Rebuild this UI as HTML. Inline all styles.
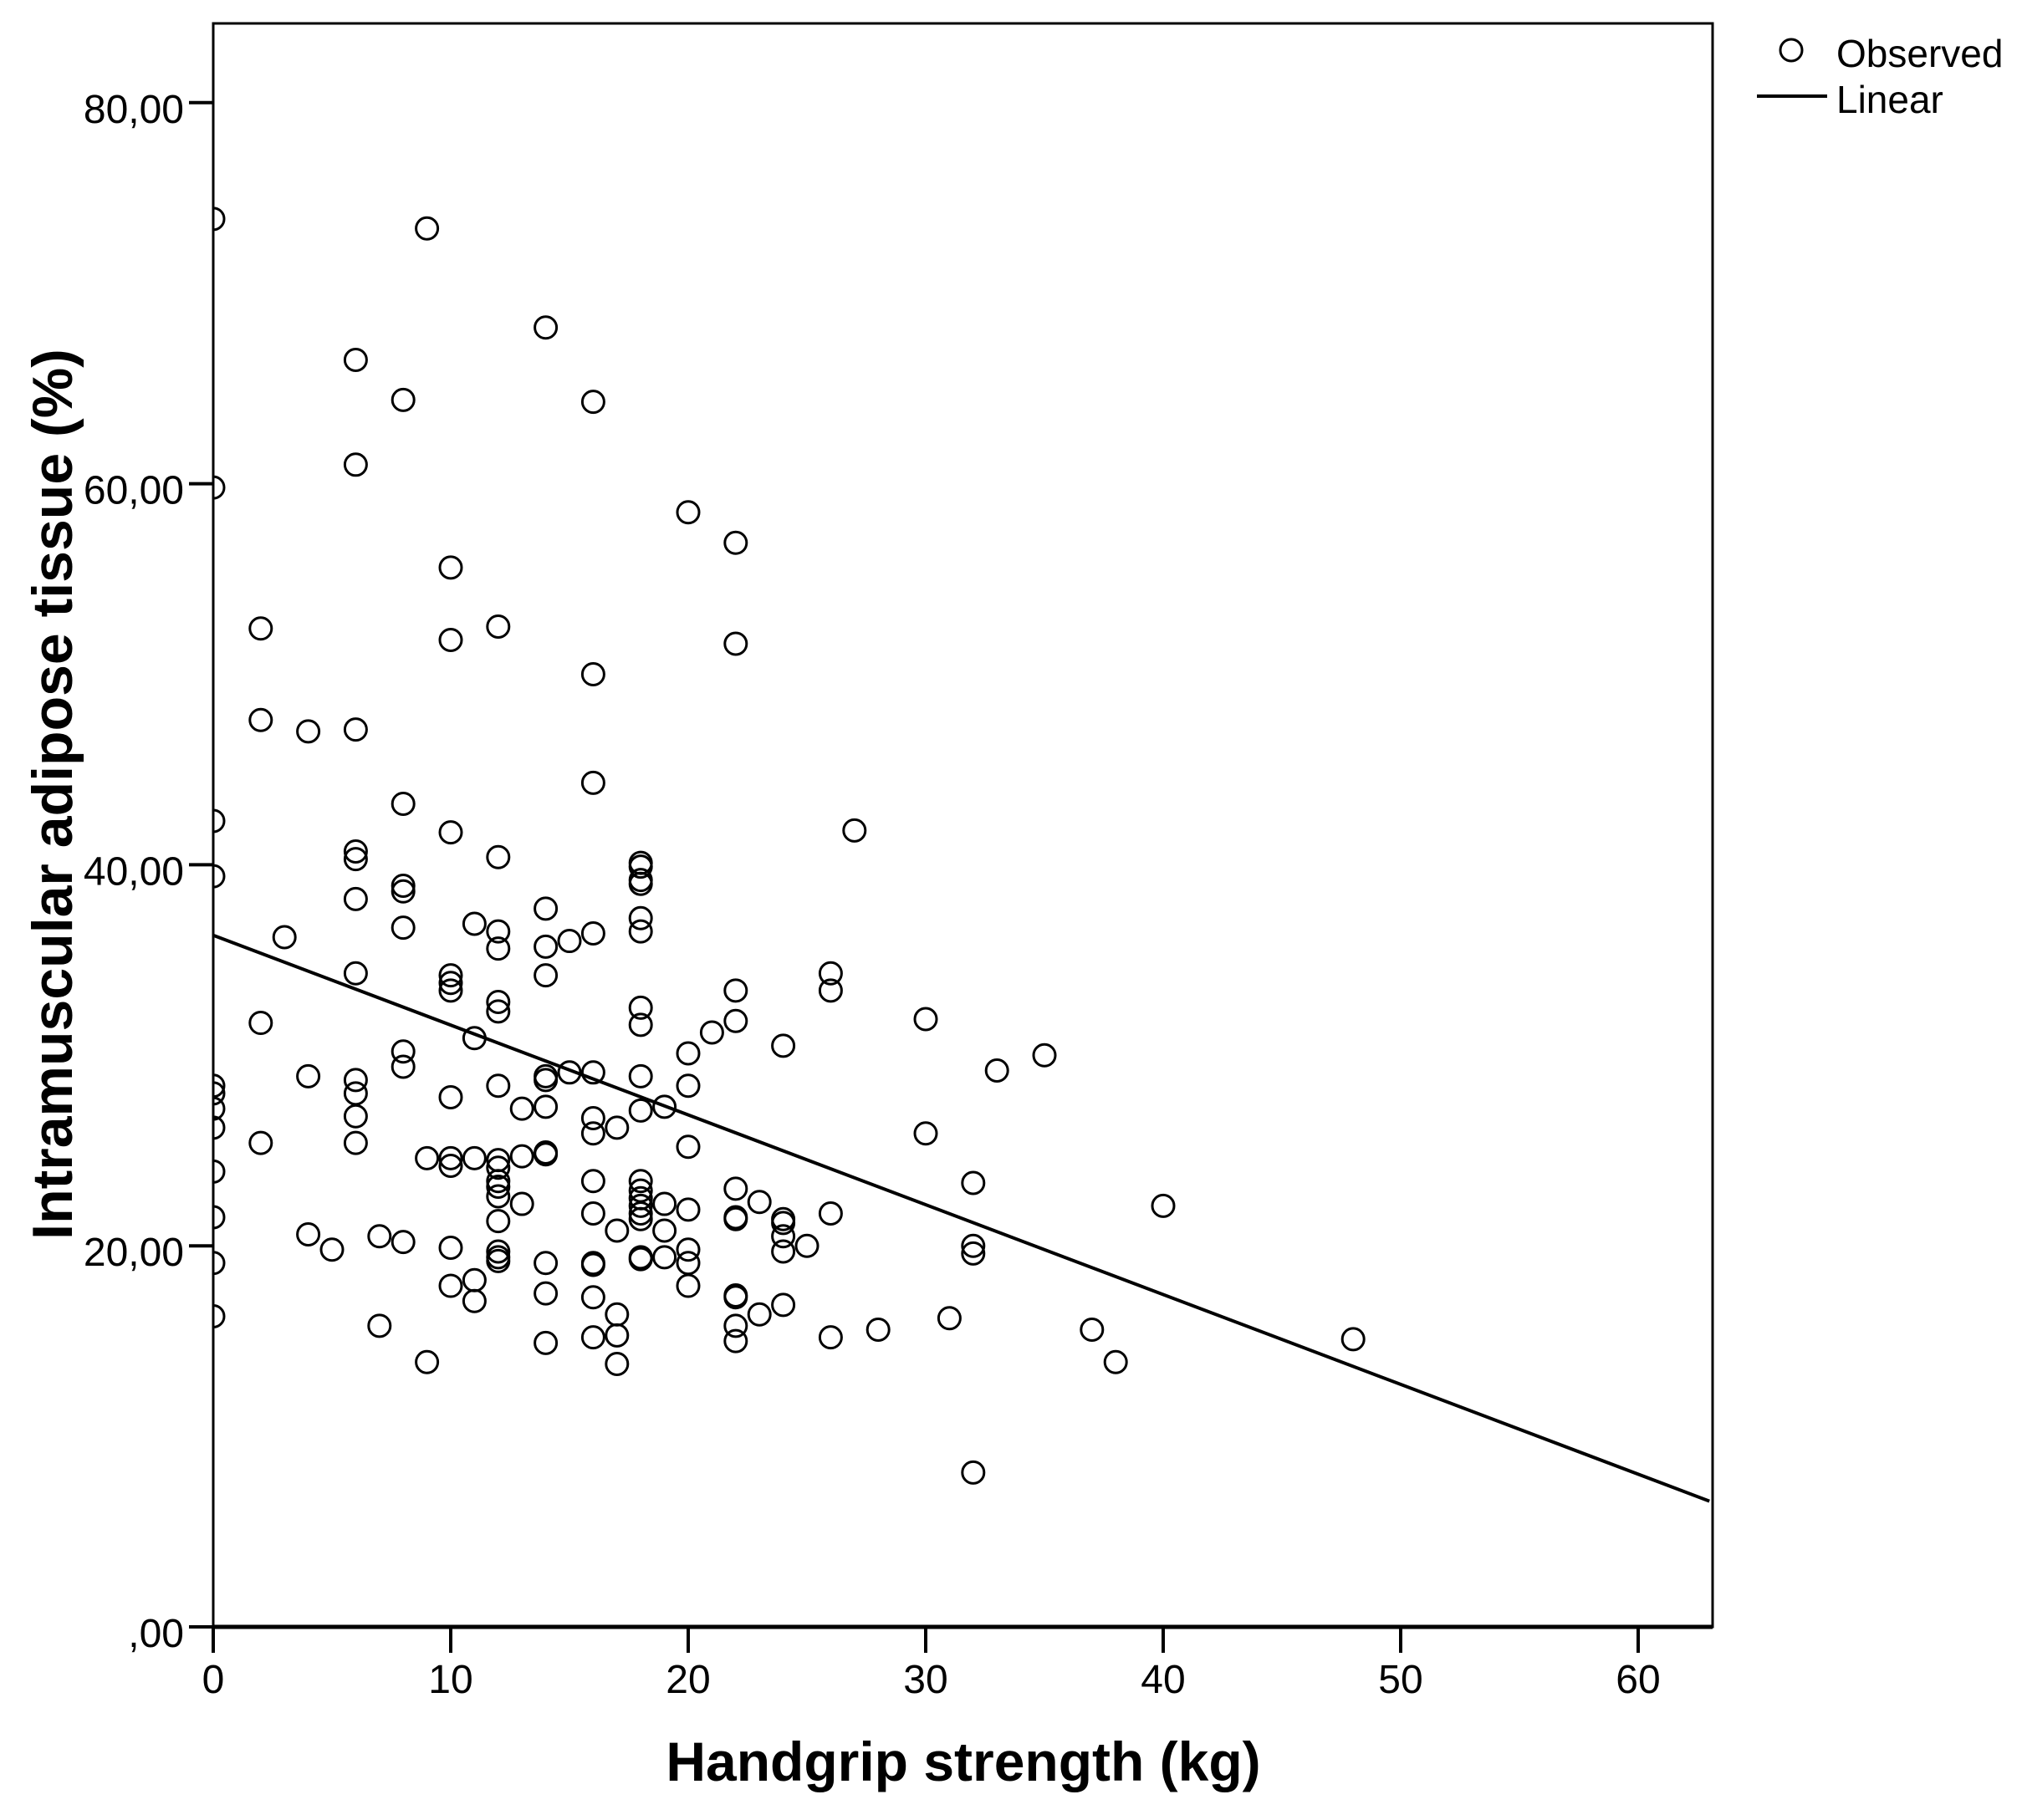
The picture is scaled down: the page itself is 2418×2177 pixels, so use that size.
<!DOCTYPE html>
<html><head><meta charset="utf-8"><style>
html,body{margin:0;padding:0;background:#fff;}
svg{display:block;font-family:"Liberation Sans",Arial,sans-serif;}
</style></head><body>
<svg id="chart" width="2418" height="2177" viewBox="0 0 2418 2177" xmlns="http://www.w3.org/2000/svg">
<defs><clipPath id="plotclip"><rect x="255" y="28" width="1793" height="1918"/></clipPath></defs>
<rect x="255" y="28" width="1793" height="1918" fill="none" stroke="#000" stroke-width="3"/>
<g id="axes"></g>
<g id="points" clip-path="url(#plotclip)"></g>
<g id="fit" clip-path="url(#plotclip)"></g>
<text x="1152" y="2130" font-size="66" font-weight="bold" text-anchor="middle">Handgrip strength (kg)</text>
<text x="0" y="0" font-size="68" font-weight="bold" text-anchor="middle" transform="translate(86,950) rotate(-90)">Intramuscular adipose tissue (%)</text>
<g>
<circle cx="2142" cy="60" r="13" fill="none" stroke="#000" stroke-width="3"/>
<text x="2196" y="80" font-size="46">Observed</text>
<line x1="2101" y1="115" x2="2185" y2="115" stroke="#000" stroke-width="4"/>
<text x="2196" y="135" font-size="46">Linear</text>
</g>
</svg>
<script>
const xTicks=[0,10,20,30,40,50,60];
const yTicks=[0,20,40,60,80];
const yTickLabels=[",00","20,00","40,00","60,00","80,00"];
const xs=[0,0,0,0,0,0,0,0,0,0,0,0,
9,14,
6,6,6,6,6,6,6,6,6,6,6,
8,8,8,8,8,8,8,8,
16,16,16,16,16,16,16,16,16,16,16,16,16,
20,20,20,20,20,20,20,20,
22,22,22,22,22,22,22,22,22,22,22,
10,10,10,10,10,10,10,10,10,10,10,
12,12,12,12,12,12,12,12,12,12,12,12,12,12,12,12,
2,2,2,2,4,4,4,27,
18,18,18,18,18,18,18,18,18,18,18,18,18,18,18,18,18,18,
14,14,14,14,14,14,14,14,14,14,14,
11,11,11,11,11,15,15,3,
26,26,26,26,30,30,21,
24,24,24,24,24,24,35,33,
13,13,13,19,19,19,19,
17,17,17,17,17,23,23,25,
32,32,32,32,40,5,7,7,9,9,28,31,37,38,48];
const ys=[73.9,59.8,42.3,39.4,28.4,28.0,27.2,26.2,23.9,21.5,19.1,16.3,
73.4,68.2,
66.5,61.0,47.1,40.7,40.3,38.2,34.3,28.7,28.0,26.8,25.4,
64.4,43.2,38.9,38.6,36.7,30.2,29.4,20.2,
64.3,50.0,44.3,36.4,29.1,26.7,25.9,23.4,21.7,19.1,17.3,15.2,19.0,
58.5,30.1,28.4,25.2,21.9,19.8,19.1,17.9,
56.9,51.6,33.4,31.8,23.0,21.5,21.4,17.4,17.3,15.8,15.0,
55.6,51.8,41.7,34.2,33.8,33.4,27.8,24.6,24.2,19.9,17.9,
52.5,40.4,36.5,35.6,32.8,32.3,28.4,24.5,24.1,23.4,23.1,22.6,21.3,19.7,19.4,19.2,
52.4,47.6,31.7,25.4,47.0,28.9,20.6,41.8,
40.1,39.9,39.2,39.0,37.2,36.5,32.5,31.6,28.9,27.1,23.4,22.9,22.5,22.1,21.7,21.4,19.4,19.3,
37.7,35.7,34.2,28.9,28.7,27.3,24.9,24.8,19.1,17.5,14.9,
36.9,30.9,24.6,18.2,17.1,36.0,29.1,36.2,
34.3,33.4,21.7,15.2,31.9,25.9,31.2,
30.5,21.4,21.2,20.5,19.7,16.9,30.0,29.2,
27.2,24.7,22.2,27.3,22.2,20.8,19.4,
26.2,20.8,16.4,15.3,13.8,22.3,16.4,20.0,
23.3,20.0,19.6,8.1,22.1,19.8,20.5,15.8,24.6,13.9,15.6,16.2,15.6,13.9,15.1];
const fitX=[0,63];
const fitY=[36.3,6.6];

const NS="http://www.w3.org/2000/svg";
const X0=255,XU=28.4,Y0=1946,YU=22.79;
function sx(v){return X0+v*XU;}
function sy(v){return Y0-v*YU;}
function mk(tag,attrs,parent){const e=document.createElementNS(NS,tag);for(const k in attrs)e.setAttribute(k,attrs[k]);parent.appendChild(e);return e;}

const axes=document.getElementById('axes');
const xa=mk('line',{x1:X0,y1:Y0,x2:2048,y2:Y0,stroke:'#000','stroke-width':5},axes);


const ya=mk('line',{x1:X0,y1:28,x2:X0,y2:Y0,stroke:'#000','stroke-width':3},axes);


xTicks.forEach(t=>{
  const l=mk('line',{x1:sx(t),y1:Y0,x2:sx(t),y2:Y0+31,stroke:'#000','stroke-width':4},axes);
  
  
  const tx=mk('text',{x:sx(t),y:2025,'font-size':48,'text-anchor':'middle'},axes);
  
  
  tx.textContent=String(t);
});
yTicks.forEach((t,i)=>{
  const l=mk('line',{x1:X0-29,y1:sy(t),x2:X0,y2:sy(t),stroke:'#000','stroke-width':4},axes);
  
  
  const tx=mk('text',{x:220,y:sy(t)+24,'font-size':48,'text-anchor':'end'},axes);
  
  
  tx.textContent=yTickLabels[i];
});
const pts=document.getElementById('points');
xs.forEach((x,i)=>{
  const c=mk('circle',{cx:sx(x),cy:sy(ys[i]),r:13,fill:'none',stroke:'#000','stroke-width':3},pts);
  
  
});
const fit=document.getElementById('fit');
const fl=mk('line',{x1:sx(fitX[0]),y1:sy(fitY[0]),x2:sx(fitX[1]),y2:sy(fitY[1]),stroke:'#000','stroke-width':4},fit);


</script>
</body></html>
